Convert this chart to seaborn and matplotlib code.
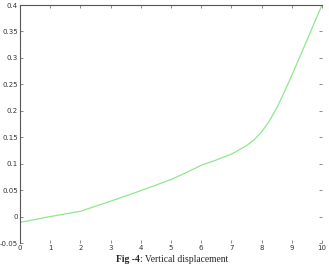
import matplotlib
matplotlib.use("Agg")
import matplotlib.pyplot as plt
import seaborn as sns
import pandas as pd

x_vals = [0, 1, 2, 3, 4, 5, 5.5, 6, 6.5, 7, 7.5, 7.75, 8, 8.25, 8.5, 8.75, 9, 9.25, 9.5, 9.75, 10]
y_vals = [-0.011, 0.0, 0.01, 0.029, 0.049, 0.07, 0.083, 0.097, 0.107, 0.118, 0.134, 0.145,
          0.16, 0.18, 0.205, 0.235, 0.267, 0.3, 0.333, 0.367, 0.4]
x_ticks = list(range(0, 11))
y_ticks = [-0.05, 0, 0.05, 0.1, 0.15, 0.2, 0.25, 0.3, 0.35, 0.4]
y_labels = ["-0.05", "0", "0.05", "0.1", "0.15", "0.2", "0.25", "0.3", "0.35", "0.4"]
caption_bold = "Fig -4"
caption_rest = ": Vertical displacement"

sns.set_style("white")
plt.rcParams['font.family'] = ['DejaVu Sans']

df = pd.DataFrame({"x": x_vals, "y": y_vals})
fig = plt.figure(figsize=(3.29, 2.67), dpi=100)
ax = fig.add_axes([20/329, 24/267, 302/329, 238/267])
sns.lineplot(data=df, x="x", y="y", ax=ax, color="#8ee88e", linewidth=0.9)
ax.set_xlim(0, 10)
ax.set_ylim(-0.05, 0.4)
ax.set_xticks(x_ticks)
ax.set_yticks(y_ticks)
ax.set_yticklabels(y_labels)
ax.set_xlabel("")
ax.set_ylabel("")
for s in ["right", "bottom"]:
    ax.spines[s].set_visible(False)
for s in ["top", "left"]:
    ax.spines[s].set_color("#555555")
    ax.spines[s].set_linewidth(0.8)
ax.tick_params(direction="in", length=2.5, width=0.6, colors="#777777",
               labelsize=5, labelcolor="#333333", top=True, right=True,
               bottom=True, left=True, pad=1.5)
fig.text(140/329, 8/267, caption_bold, ha="right", va="center",
         fontsize=6.9, fontweight="bold", family="Liberation Serif")
fig.text(140/329, 8/267, caption_rest, ha="left", va="center",
         fontsize=6.9, family="Liberation Serif")
fig.savefig("out.png", dpi=100)
